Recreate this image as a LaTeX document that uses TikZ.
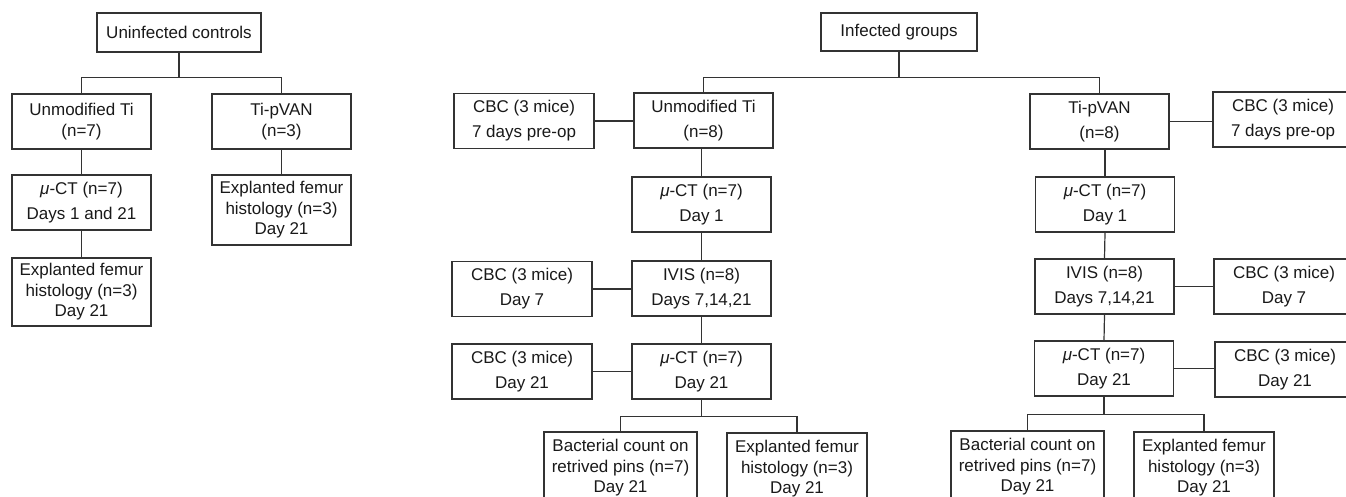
\documentclass[tikz,border=0pt]{standalone}
\usepackage{fontspec}
\setmainfont{Liberation Sans}
\begin{document}
\begin{tikzpicture}[x=1pt,y=-1pt,
  box/.style={draw=black!80, line width=1.2pt, inner sep=0pt, align=center, text=black!90,
    font=\fontsize{17}{25}\selectfont, minimum width=139pt, minimum height=55pt},
  tall/.style={font=\fontsize{17}{20.5}\selectfont},
  snug/.style={font=\fontsize{17}{20.5}\selectfont},
  link/.style={draw=black!80, line width=1.2pt}]
\useasboundingbox (0,0) rectangle (1346,497);
% uninfected controls
\node[box, minimum width=164pt, minimum height=39pt] (uc) at (179,32.5) {Uninfected controls};
\node[box, snug] (cu) at (81.5,121.5) {Unmodified Ti\\(n=7)};
\node[box, snug] (cp) at (281.5,121.5) {Ti-pVAN\\(n=3)};
\node[box] (cct) at (81.5,202.5) {\textit{μ}-CT (n=7)\\Days 1 and 21};
\node[box, tall, minimum height=70pt] (cexpb) at (281.5,210) {Explanted femur\\histology (n=3)\\Day 21};
\node[box, tall, minimum height=68pt] (cexpa) at (81.5,292) {Explanted femur\\histology (n=3)\\Day 21};
\draw[link] (uc.south) -- ++(0,25) coordinate (uj) -| (cu.north);
\draw[link] (uj) -| (cp.north);
\draw[link] (cu.south) -- (cct.north);
\draw[link] (cct.south) -- (cexpa.north);
\draw[link] (cp.south) -- (cexpb.north);
% infected groups
\node[box, minimum width=156pt, minimum height=38pt] (ig) at (899,32) {Infected groups};
\node[box] (iu) at (703.5,120.5) {Unmodified Ti\\(n=8)};
\node[box, minimum width=140pt] (cbcaL) at (524,121) {CBC (3 mice)\\7 days pre-op};
\node[box] (ictaL) at (701.5,204.5) {\textit{μ}-CT (n=7)\\Day 1};
\node[box] (ivL) at (701.5,288.5) {IVIS (n=8)\\Days 7,14,21};
\node[box, minimum width=140pt] (cbcbL) at (522,289) {CBC (3 mice)\\Day 7};
\node[box] (ictbL) at (701.5,371.5) {\textit{μ}-CT (n=7)\\Day 21};
\node[box, minimum width=140pt] (cbccL) at (522,371.5) {CBC (3 mice)\\Day 21};
\node[box, tall, minimum width=153pt, minimum height=72pt] (bacL) at (620.5,468) {Bacterial count on\\retrived pins (n=7)\\Day 21};
\node[box, tall, minimum width=140pt, minimum height=72pt] (expL) at (797,469) {Explanted femur\\histology (n=3)\\Day 21};

\node[box] (ip) at (1099.5,121.5) {Ti-pVAN\\(n=8)};
\node[box, minimum width=140pt] (cbcaR) at (1283,119.5) {CBC (3 mice)\\7 days pre-op};
\node[box] (ictaR) at (1105,204.5) {\textit{μ}-CT (n=7)\\Day 1};
\node[box] (ivR) at (1104.5,286.5) {IVIS (n=8)\\Days 7,14,21};
\node[box, minimum width=140pt] (cbcbR) at (1284,286.5) {CBC (3 mice)\\Day 7};
\node[box] (ictbR) at (1104,368.5) {\textit{μ}-CT (n=7)\\Day 21};
\node[box, minimum width=140pt] (cbccR) at (1285,369.5) {CBC (3 mice)\\Day 21};
\node[box, tall, minimum width=153pt, minimum height=72pt] (bacR) at (1027.5,467) {Bacterial count on\\retrived pins (n=7)\\Day 21};
\node[box, tall, minimum width=140pt, minimum height=72pt] (expR) at (1204,468) {Explanted femur\\histology (n=3)\\Day 21};

\draw[link] (ig.south) -- ++(0,26) coordinate (ij) -| (iu.north);
\draw[link] (ij) -| (ip.north);
\draw[link] (cbcaL.east) -- (cbcaL.east -| iu.west);
\draw[link] (ictaL.north |- iu.south) -- (ictaL.north);
\draw[link] (ictaL.south) -- (ivL.north);
\draw[link] (cbcbL.east) -- (cbcbL.east -| ivL.west);
\draw[link] (ivL.south) -- (ictbL.north);
\draw[link] (cbccL.east) -- (cbccL.east -| ictbL.west);
\draw[link] (ictbL.south) -- ++(0,17) coordinate (sL) -| (bacL.north);
\draw[link] (sL) -| (expL.north);

\draw[link] (ip.east) -- (ip.east -| cbcaR.west);
\draw[link] (ictaR.north |- ip.south) -- (ictaR.north);
\draw[link] (ictaR.south) -- (ivR.north);
\draw[link] (ivR.east) -- (ivR.east -| cbcbR.west);
\draw[link] (ivR.south) -- (ictbR.north);
\draw[link] (ictbR.east) -- (ictbR.east -| cbccR.west);
\draw[link] (ictbR.south) -- ++(0,18) coordinate (sR) -| (bacR.north);
\draw[link] (sR) -| (expR.north);
\end{tikzpicture}
\end{document}
